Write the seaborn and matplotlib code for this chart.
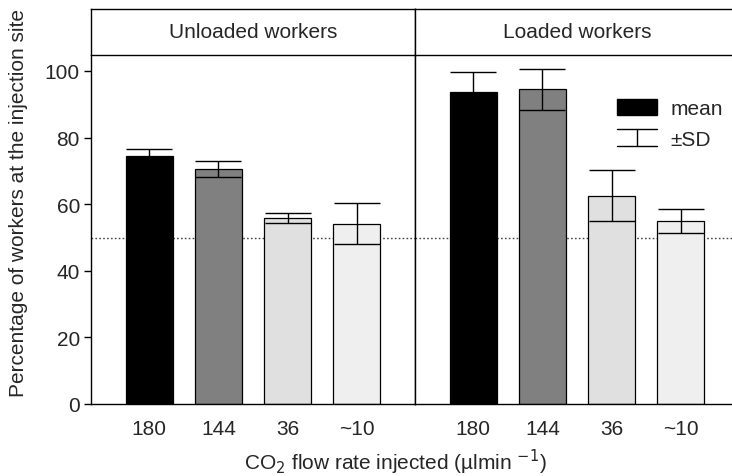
import matplotlib
matplotlib.use("Agg")
import matplotlib.pyplot as plt
import seaborn as sns
from matplotlib.legend_handler import HandlerBase
from matplotlib.lines import Line2D
from matplotlib.patches import Patch

flow_labels = ["180", "144", "36", "~10"]
unloaded_mean = [74.6, 70.6, 55.9, 54.1]
unloaded_sd = [2.0, 2.3, 1.6, 6.2]
loaded_mean = [93.8, 94.5, 62.6, 55.1]
loaded_sd = [6.0, 6.2, 7.7, 3.6]
panel_titles = ["Unloaded workers", "Loaded workers"]
bar_colors = ["#000000", "#808080", "#e0e0e0", "#efefef"]
y_ticks = [0, 20, 40, 60, 80, 100]
chance_level = 50

sns.set_theme(style="white")
plt.rcParams["font.family"] = ["Liberation Sans", "DejaVu Sans"]
FS = 15

W, H = 732, 477
fig = plt.figure(figsize=(W / 100, H / 100), dpi=100)

def fx(px):
    return px / W

def fy(py):
    return 1 - py / H

ax_l, ax_r, y0, ytop, yhead = 91, 415, 405, 56, 10
pw = ax_r - ax_l
axL = fig.add_axes([fx(ax_l), fy(y0), fx(pw), (y0 - ytop) / H])
axR = fig.add_axes([fx(ax_r), fy(y0), fx(pw), (y0 - ytop) / H])
hL = fig.add_axes([fx(ax_l), fy(ytop), fx(pw), (ytop - yhead) / H])
hR = fig.add_axes([fx(ax_r), fy(ytop), fx(pw), (ytop - yhead) / H])

ymax = (y0 - ytop) / ((y0 - 72) / 100.0)

for ax, means, sds in [(axL, unloaded_mean, unloaded_sd), (axR, loaded_mean, loaded_sd)]:
    sns.barplot(x=flow_labels, y=means, hue=flow_labels, palette=bar_colors,
                ax=ax, width=0.68, edgecolor="black", linewidth=0.9,
                legend=False, errorbar=None, zorder=2)
    xs = [p.get_x() + p.get_width() / 2 for p in ax.patches]
    ax.errorbar(xs, means, yerr=sds, fmt="none", ecolor="black",
                elinewidth=1.0, capsize=16.5, capthick=1.0, zorder=3)
    ax.axhline(chance_level, color="#444444", lw=1.0, ls=(0, (1.2, 1.6)), zorder=1)
    ax.set_xlim(-0.84, 3.84)
    ax.set_ylim(0, ymax)
    ax.tick_params(axis="x", length=0, labelsize=FS, pad=10.5)
    for s in ax.spines.values():
        s.set_color("black")
        s.set_linewidth(1.0)
    ax.spines["top"].set_visible(False)

axL.spines["right"].set_visible(True)
axR.spines["right"].set_visible(False)
axL.set_yticks(y_ticks)
axL.tick_params(axis="y", left=True, length=5, width=1, labelsize=FS, pad=3, color="black")
axR.set_yticks([])
axR.tick_params(axis="y", left=False, labelleft=False)

for hax, title in [(hL, panel_titles[0]), (hR, panel_titles[1])]:
    hax.set_xticks([])
    hax.set_yticks([])
    for s in hax.spines.values():
        s.set_color("black")
        s.set_linewidth(1.0)
    hax.text(0.5, 0.5, title, ha="center", va="center", fontsize=FS,
             transform=hax.transAxes)

fig.text(fx(395), fy(470), r"CO$_2$ flow rate injected (µlmin $^{-1}$)",
         ha="center", va="baseline", fontsize=FS)
fig.text(fx(19), fy(203), "Percentage of workers at the injection site",
         ha="center", va="center", rotation=90, fontsize=FS)


class SDHandler(HandlerBase):
    def create_artists(self, legend, orig_handle, xdescent, ydescent,
                       width, height, fontsize, trans):
        cx = width / 2 - xdescent
        top = height - ydescent
        bot = -ydescent
        x0, x1 = -xdescent, width - xdescent
        arts = [Line2D([x0, x1], [top, top], color="black", lw=1.0),
                Line2D([x0, x1], [bot, bot], color="black", lw=1.0),
                Line2D([cx, cx], [bot, top], color="black", lw=1.0)]
        for a in arts:
            a.set_transform(trans)
        return arts


class SDKey:
    pass


leg = axR.legend([Patch(facecolor="black", edgecolor="black"), SDKey()],
                 ["mean", "±SD"],
                 handler_map={SDKey: SDHandler()},
                 loc="upper left", bbox_to_anchor=(0.623, 0.875),
                 frameon=False, fontsize=FS, handlelength=1.92,
                 handleheight=0.82, handletextpad=0.67, labelspacing=0.55,
                 borderaxespad=0, borderpad=0)

fig.savefig("out.png", dpi=100)
